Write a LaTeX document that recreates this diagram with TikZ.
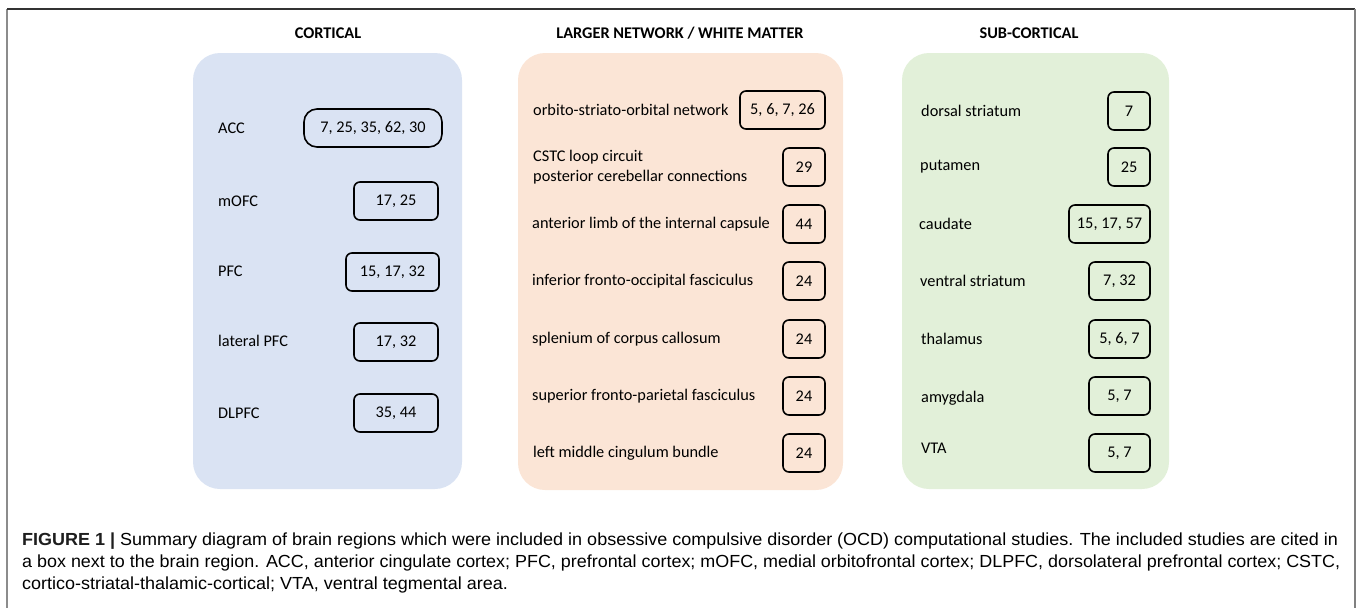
\documentclass[tikz,border=0pt]{standalone}
\usepackage{fontspec}
\setmainfont{Carlito}
\newfontfamily\capfont{Liberation Sans}
\usepackage{graphicx}
\definecolor{blueP}{HTML}{DAE3F3}
\definecolor{orangeP}{HTML}{FBE5D6}
\definecolor{greenP}{HTML}{E2F0D9}
\definecolor{captxt}{HTML}{3A3A3A}
\definecolor{capbold}{HTML}{1E1E1E}
\newsavebox\capA
\newsavebox\capB
\newsavebox\capC
\newcommand\nbox[6]{%
  \node[numbox, minimum width={(#4)-(#2)}, minimum height={(#5)-(#3)}] (#1)
    at ({((#2)+(#4))/2},{((#3)+(#5))/2}) {#6};}
\begin{document}
\sbox\capA{\capfont\fontsize{17.5}{21}\selectfont\textcolor{capbold}{\textbf{FIGURE 1 |}} Summary diagram of brain regions which were included in obsessive compulsive disorder (OCD) computational studies. The included studies are cited in}%
\sbox\capB{\capfont\fontsize{17.5}{21}\selectfont a box next to the brain region. ACC, anterior cingulate cortex; PFC, prefrontal cortex; mOFC, medial orbitofrontal cortex; DLPFC, dorsolateral prefrontal cortex; CSTC,}%
\sbox\capC{\capfont\fontsize{17.5}{21}\selectfont cortico-striatal-thalamic-cortical; VTA, ventral tegmental area.}%
\pgfmathsetmacro\capsx{1316/\the\wd\capA}%
\pgfmathsetmacro\capsxb{1318/\the\wd\capB}%
\begin{tikzpicture}[x=1pt,y=-1pt,
  lbl/.style={anchor=west, inner sep=0pt, font=\fontsize{16.3}{19.5}\selectfont},
  hdr/.style={inner sep=0pt, font=\fontsize{16.3}{19.5}\selectfont\bfseries},
  numbox/.style={draw, line width=1.6pt, rounded corners=6pt, inner sep=0pt,
    font=\fontsize{16.3}{19.5}\selectfont},
  panel/.style={rounded corners=27pt, draw=none},
  capl/.style={anchor=west, inner sep=0pt, text=captxt}]
\useasboundingbox (0,0) rectangle (1357,608);
% frame
\draw[line width=1.5pt, black!45] (7,9) -- (7,608);
\draw[line width=1.5pt, black!80] (7,9) -- (1355,9);
\draw[line width=2pt, black!50] (1355,9) -- (1355,608);
% headers
\node[hdr] (h1) at (328,33) {CORTICAL};
\node[hdr] (h2) at (680,33) {LARGER NETWORK / WHITE MATTER};
\node[hdr] (h3) at (1029,33) {SUB-CORTICAL};
% panels
\fill[panel, blueP] (193,53) rectangle (462,489);
\fill[panel, orangeP] (518,53) rectangle (843,490);
\fill[panel, greenP] (902,53) rectangle (1169,489);
% cortical
\node[lbl] (acc) at (218,128) {ACC};
\node[lbl] (mofc) at (218,201) {mOFC};
\node[lbl] (pfc) at (218,271) {PFC};
\node[lbl] (lpfc) at (218,341) {lateral PFC};
\node[lbl] (dlpfc) at (218,413) {DLPFC};
\node[numbox, rounded corners=13pt, minimum width=138, minimum height=38] (accb) at (373,128) {7, 25, 35, 62, 30};
\nbox{mofcb}{354}{182}{438}{220}{17, 25}
\nbox{pfcb}{346}{253}{439}{291}{15, 17, 32}
\nbox{lpfcb}{354}{323}{438}{361}{17, 32}
\nbox{dlpfcb}{354}{394}{438}{432}{35, 44}
% larger network
\node[lbl] (oso) at (533,110) {orbito-striato-orbital network};
\node[lbl] (cstc1) at (533,157) {CSTC loop circuit};
\node[lbl] (cstc2) at (533,177) {posterior cerebellar connections};
\node[lbl] (alic) at (532,224) {anterior limb of the internal capsule};
\node[lbl] (ifof) at (532,281) {inferior fronto-occipital fasciculus};
\node[lbl] (scc) at (532,339) {splenium of corpus callosum};
\node[lbl] (sfpf) at (532,396) {superior fronto-parietal fasciculus};
\node[lbl] (lmcb) at (533,453) {left middle cingulum bundle};
\nbox{osob}{740}{91}{825}{129}{5, 6, 7, 26}
\nbox{cstcb}{783}{148}{825}{186}{29}
\nbox{alicb}{783}{205}{825}{243}{44}
\nbox{ifofb}{783}{262}{825}{300}{24}
\nbox{sccb}{783}{320}{825}{358}{24}
\nbox{sfpfb}{783}{377}{825}{415}{24}
\nbox{lmcbb}{783}{434}{825}{472}{24}
% sub-cortical
\node[lbl] (ds) at (921,111) {dorsal striatum};
\node[lbl] (put) at (920,167) {putamen};
\node[lbl] (cau) at (919,224) {caudate};
\node[lbl] (vs) at (920,281) {ventral striatum};
\node[lbl] (tha) at (921,339) {thalamus};
\node[lbl] (amy) at (921,398) {amygdala};
\node[lbl] (vta) at (921,448) {VTA};
\nbox{dsb}{1108}{92}{1150}{130}{7}
\nbox{putb}{1108}{148}{1150}{186}{25}
\nbox{caub}{1069}{205}{1150}{243}{15, 17, 57}
\nbox{vsb}{1089}{262}{1150}{300}{7, 32}
\nbox{thab}{1089}{320}{1150}{358}{5, 6, 7}
\nbox{amyb}{1089}{377}{1150}{415}{5, 7}
\nbox{vtab}{1089}{434}{1150}{472}{5, 7}
% caption
\node[capl] (cap1) at (22,541) {\scalebox{\capsx}[1]{\usebox\capA}};
\node[capl] (cap2) at (22,563) {\scalebox{\capsxb}[1]{\usebox\capB}};
\node[capl] (cap3) at (22,585) {\scalebox{\capsx}[1]{\usebox\capC}};
\end{tikzpicture}
\end{document}
